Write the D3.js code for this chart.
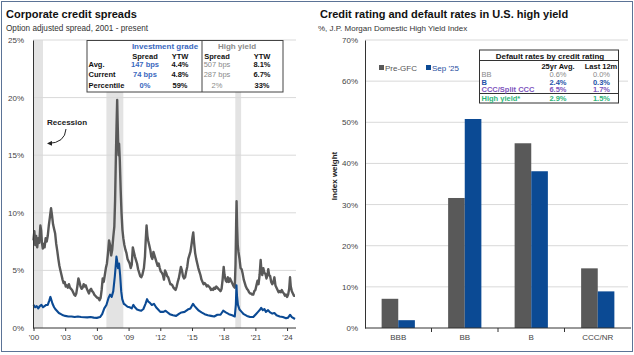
<!DOCTYPE html>
<html><head><meta charset="utf-8">
<script src="https://cdn.jsdelivr.net/npm/d3@7"></script>
<style>body{margin:0;background:#fff} svg{display:block;font-family:"Liberation Sans",Arial,sans-serif}</style>
</head><body><svg id="c" width="634" height="355"></svg>
<script>
// ---------- Left chart data ----------
const hySpread = [[2001.00,7.6],[2001.08,8.4],[2001.17,7.2],[2001.25,8.0],[2001.35,7.0],[2001.45,7.8],[2001.55,7.4],[2001.65,8.9],[2001.72,8.5],[2001.80,7.4],[2001.88,6.9],[2001.96,7.3],[2002.05,7.0],[2002.15,7.8],[2002.25,7.5],[2002.35,8.0],[2002.45,8.9],[2002.55,9.6],[2002.66,10.4],[2002.75,9.8],[2002.85,9.0],[2002.95,8.6],[2003.05,8.2],[2003.15,7.3],[2003.25,6.7],[2003.35,6.0],[2003.45,5.4],[2003.55,5.0],[2003.65,4.6],[2003.75,4.2],[2003.85,3.9],[2003.95,4.0],[2004.05,3.6],[2004.15,3.7],[2004.25,3.5],[2004.35,3.8],[2004.45,3.5],[2004.55,3.4],[2004.65,3.3],[2004.75,3.1],[2004.85,2.9],[2004.95,2.8],[2005.05,3.0],[2005.15,3.6],[2005.25,4.3],[2005.35,4.0],[2005.45,3.6],[2005.55,3.4],[2005.65,3.5],[2005.75,3.8],[2005.85,3.6],[2005.95,3.7],[2006.05,3.4],[2006.15,3.2],[2006.25,3.0],[2006.35,3.3],[2006.45,3.4],[2006.55,3.2],[2006.65,3.1],[2006.75,2.9],[2006.85,2.8],[2006.95,2.7],[2007.05,2.6],[2007.15,2.6],[2007.25,2.4],[2007.35,2.6],[2007.45,3.3],[2007.55,4.3],[2007.65,4.0],[2007.75,4.6],[2007.85,5.2],[2007.95,5.6],[2008.05,6.5],[2008.15,7.6],[2008.25,7.2],[2008.35,6.3],[2008.45,6.8],[2008.55,7.9],[2008.65,8.8],[2008.72,11.0],[2008.80,15.0],[2008.86,17.5],[2008.92,19.8],[2008.96,18.0],[2009.00,16.5],[2009.05,15.0],[2009.10,16.0],[2009.17,14.5],[2009.25,12.0],[2009.33,10.0],[2009.42,8.5],[2009.50,7.8],[2009.60,7.2],[2009.70,6.8],[2009.80,6.5],[2009.90,6.0],[2010.00,5.8],[2010.10,5.6],[2010.20,5.2],[2010.30,5.5],[2010.40,7.0],[2010.50,6.6],[2010.60,6.2],[2010.70,5.9],[2010.80,5.6],[2010.90,5.1],[2011.00,4.8],[2011.10,4.5],[2011.20,4.4],[2011.30,4.6],[2011.45,5.2],[2011.55,6.2],[2011.62,7.6],[2011.70,8.9],[2011.78,8.0],[2011.85,7.6],[2011.95,7.2],[2012.05,6.8],[2012.15,6.2],[2012.25,6.0],[2012.35,6.6],[2012.45,6.3],[2012.55,6.0],[2012.65,5.7],[2012.75,5.4],[2012.85,5.6],[2012.95,5.2],[2013.05,4.9],[2013.15,4.8],[2013.25,4.6],[2013.35,4.2],[2013.45,5.0],[2013.55,4.8],[2013.65,4.5],[2013.75,4.4],[2013.85,4.1],[2013.95,3.8],[2014.05,3.8],[2014.15,3.7],[2014.25,3.5],[2014.35,3.4],[2014.45,3.3],[2014.55,3.6],[2014.65,4.0],[2014.75,4.3],[2014.85,4.8],[2014.95,5.3],[2015.05,5.0],[2015.15,4.5],[2015.25,4.3],[2015.35,4.4],[2015.45,4.9],[2015.55,5.3],[2015.65,6.0],[2015.75,6.3],[2015.85,6.6],[2015.95,7.2],[2016.05,7.9],[2016.12,8.3],[2016.20,7.4],[2016.30,6.5],[2016.40,6.0],[2016.50,5.6],[2016.60,5.2],[2016.70,4.9],[2016.80,4.6],[2016.90,4.2],[2017.00,4.0],[2017.10,3.8],[2017.20,3.9],[2017.30,3.8],[2017.40,3.6],[2017.50,3.7],[2017.60,3.6],[2017.70,3.5],[2017.80,3.3],[2017.90,3.4],[2018.00,3.3],[2018.10,3.5],[2018.20,3.4],[2018.30,3.6],[2018.40,3.5],[2018.50,3.4],[2018.60,3.3],[2018.70,3.2],[2018.80,3.4],[2018.90,4.2],[2019.00,5.3],[2019.08,4.6],[2019.20,4.1],[2019.30,4.0],[2019.40,4.4],[2019.50,4.0],[2019.60,4.3],[2019.70,4.1],[2019.80,3.9],[2019.95,3.6],[2020.05,3.5],[2020.12,5.5],[2020.18,9.0],[2020.22,11.0],[2020.27,8.8],[2020.33,7.2],[2020.40,6.6],[2020.50,6.0],[2020.60,5.2],[2020.70,5.1],[2020.80,4.7],[2020.90,4.2],[2021.00,3.9],[2021.10,3.6],[2021.20,3.4],[2021.30,3.3],[2021.40,3.1],[2021.50,3.0],[2021.60,3.0],[2021.70,2.9],[2021.80,2.9],[2021.90,3.2],[2022.00,3.3],[2022.10,3.7],[2022.20,4.1],[2022.30,3.8],[2022.40,4.6],[2022.50,5.9],[2022.58,4.9],[2022.65,4.6],[2022.75,5.2],[2022.85,4.8],[2022.95,4.7],[2023.05,4.3],[2023.15,4.6],[2023.22,5.1],[2023.30,4.6],[2023.40,4.5],[2023.50,4.0],[2023.60,3.8],[2023.70,4.0],[2023.80,4.4],[2023.90,3.7],[2024.00,3.5],[2024.10,3.3],[2024.20,3.1],[2024.30,3.2],[2024.40,3.1],[2024.50,3.3],[2024.60,3.1],[2024.70,3.0],[2024.80,2.8],[2024.90,2.9],[2025.00,2.7],[2025.10,2.9],[2025.20,3.4],[2025.28,4.4],[2025.35,3.6],[2025.45,3.2],[2025.55,3.0],[2025.65,2.8],[2025.75,2.8]];
const igSpread = [[2001.00,2.0],[2001.15,1.8],[2001.30,1.9],[2001.45,1.7],[2001.60,1.9],[2001.75,2.0],[2001.90,1.8],[2002.05,1.9],[2002.20,2.0],[2002.35,2.0],[2002.50,2.4],[2002.60,2.7],[2002.70,2.4],[2002.80,2.1],[2002.95,1.8],[2003.10,1.6],[2003.25,1.45],[2003.40,1.3],[2003.60,1.2],[2003.80,1.1],[2004.00,1.05],[2004.30,1.0],[2004.60,1.0],[2004.90,0.95],[2005.20,1.0],[2005.50,0.95],[2005.80,0.93],[2006.10,0.92],[2006.40,0.95],[2006.70,0.9],[2007.00,0.88],[2007.30,0.95],[2007.50,1.2],[2007.70,1.7],[2007.90,2.0],[2008.10,2.6],[2008.25,2.9],[2008.40,2.7],[2008.55,3.2],[2008.70,4.5],[2008.80,5.6],[2008.85,6.2],[2008.92,5.8],[2009.00,5.2],[2009.10,5.6],[2009.20,4.6],[2009.30,3.2],[2009.40,2.5],[2009.55,2.1],[2009.70,2.0],[2009.90,1.85],[2010.10,1.8],[2010.30,1.7],[2010.45,2.0],[2010.60,1.8],[2010.80,1.6],[2011.00,1.55],[2011.20,1.5],[2011.40,1.65],[2011.60,2.1],[2011.75,2.5],[2011.85,2.3],[2012.00,2.2],[2012.20,2.0],[2012.40,2.1],[2012.60,1.8],[2012.80,1.6],[2013.00,1.4],[2013.30,1.4],[2013.50,1.5],[2013.70,1.35],[2013.90,1.2],[2014.20,1.1],[2014.50,1.05],[2014.80,1.25],[2015.00,1.35],[2015.30,1.4],[2015.60,1.6],[2015.85,1.7],[2016.10,2.1],[2016.25,1.9],[2016.45,1.7],[2016.65,1.5],[2016.90,1.35],[2017.20,1.2],[2017.50,1.1],[2017.80,1.05],[2018.10,1.0],[2018.40,1.15],[2018.70,1.15],[2018.95,1.5],[2019.20,1.35],[2019.50,1.2],[2019.80,1.1],[2020.05,1.0],[2020.15,2.0],[2020.21,3.7],[2020.26,2.8],[2020.35,2.0],[2020.50,1.6],[2020.70,1.4],[2020.90,1.2],[2021.20,1.05],[2021.50,0.95],[2021.80,0.95],[2022.05,1.2],[2022.25,1.4],[2022.45,1.6],[2022.55,1.75],[2022.70,1.55],[2022.85,1.65],[2023.00,1.4],[2023.20,1.55],[2023.40,1.35],[2023.60,1.25],[2023.80,1.3],[2024.00,1.1],[2024.30,1.0],[2024.60,0.95],[2024.90,0.85],[2025.10,0.9],[2025.28,1.15],[2025.45,0.95],[2025.75,0.78]];
const recessions = [[2001.0, 2001.9], [2007.9, 2009.5], [2020.1, 2020.65]];
const leftYTicks = [0, 5, 10, 15, 20, 25];
const leftXTickYears = [2001, 2004, 2007, 2010, 2013, 2016, 2019, 2022, 2025];
const leftXTickLabels = ["'00", "'03", "'06", "'09", "'12", "'15", "'18", "'21", "'24"];
const spreadTableRows = ["Avg.", "Current", "Percentile"];
const igSpreadCol = ["147 bps", "74 bps", "0%"];
const igYtwCol = ["4.4%", "4.8%", "59%"];
const hySpreadCol = ["507 bps", "287 bps", "2%"];
const hyYtwCol = ["8.1%", "6.7%", "33%"];

// ---------- Right chart data ----------
const ratings = ["BBB", "BB", "B", "CCC/NR"];
const seriesNames = ["Pre-GFC", "Sep '25"];
const preGFC = [7.1, 31.6, 44.9, 14.5];
const sep25 = [1.9, 50.8, 38.1, 8.9];
const rightYTicks = [0, 10, 20, 30, 40, 50, 60, 70];
const defaultRows = ["BB", "B", "CCC/Split CCC", "High yield*"];
const default25yr = ["0.6%", "2.4%", "6.5%", "2.9%"];
const defaultLast12m = ["0.0%", "0.3%", "1.7%", "1.5%"];

const GRAY = "#595959", BLUE = "#0b4a94", GRID = "#d9d9d9", AXIS = "#333";
const svg = d3.select("#c");

// frame
svg.append("rect").attr("x",1.5).attr("y",1.5).attr("width",631).attr("height",350)
  .attr("fill","none").attr("stroke","#5b7396").attr("stroke-width",1);

// ===== LEFT =====
svg.append("text").attr("x",6).attr("y",18).attr("font-size",11).attr("font-weight","bold").attr("fill","#111").text("Corporate credit spreads");
svg.append("text").attr("x",6).attr("y",30.5).attr("font-size",8.2).attr("fill","#333").text("Option adjusted spread, 2001 - present");

const xL = d3.scaleLinear().domain([2001, 2025.75]).range([33.5, 295]);
const yL = d3.scaleLinear().domain([0, 25]).range([328, 40]);

svg.append("g").selectAll("rect").data(recessions).join("rect")
  .attr("x", d => xL(d[0])).attr("width", d => xL(d[1]) - xL(d[0]))
  .attr("y", yL(25)).attr("height", yL(0) - yL(25)).attr("fill", "#e3e3e3");

svg.append("g").selectAll("line").data(leftYTicks.filter(d => d > 0)).join("line")
  .attr("x1", 33).attr("x2", 296).attr("y1", d => yL(d)).attr("y2", d => yL(d))
  .attr("stroke", GRID).attr("stroke-width", 1);

const lineL = d3.line().x(d => xL(d[0])).y(d => yL(d[1]));
svg.append("path").datum(hySpread).attr("d", lineL).attr("fill","none").attr("stroke",GRAY).attr("stroke-width",2.4).attr("stroke-linejoin","round");
svg.append("path").datum(igSpread).attr("d", lineL).attr("fill","none").attr("stroke",BLUE).attr("stroke-width",2.1).attr("stroke-linejoin","round");

const yAxL = svg.append("g").attr("transform","translate(33,0)")
  .call(d3.axisLeft(yL).tickValues(leftYTicks).tickSize(0).tickPadding(9).tickFormat(d => d + "%"));
yAxL.select(".domain").attr("stroke", AXIS);
yAxL.selectAll("text").attr("font-size",8).attr("fill","#444").attr("font-family","Liberation Sans, Arial, sans-serif");

const xAxL = svg.append("g").attr("transform","translate(0,328)")
  .call(d3.axisBottom(xL).tickValues(leftXTickYears).tickSize(3).tickPadding(3)
    .tickFormat((d,i) => leftXTickLabels[i]));
xAxL.select(".domain").attr("stroke", AXIS).attr("d","M33,0H296");
xAxL.selectAll(".tick line").attr("stroke", AXIS);
xAxL.selectAll("text").attr("font-size",8).attr("fill","#444").attr("font-family","Liberation Sans, Arial, sans-serif");

svg.append("defs").append("marker").attr("id","arr").attr("viewBox","0 0 10 10").attr("refX",8).attr("refY",5)
  .attr("markerWidth",5).attr("markerHeight",5).attr("orient","auto")
  .append("path").attr("d","M0,0L10,5L0,10z").attr("fill","#222");
svg.append("text").attr("x",47).attr("y",125).attr("font-size",8).attr("font-weight","bold").attr("fill","#222").text("Recession");
svg.append("path").attr("d","M66,129 Q65,143 48,143.5").attr("fill","none").attr("stroke","#222").attr("stroke-width",1).attr("marker-end","url(#arr)");

const tL = svg.append("g");
tL.append("rect").attr("x",87).attr("y",40.5).attr("width",196).attr("height",51.5).attr("fill","#fff").attr("stroke","#444").attr("stroke-width",1);
tL.append("line").attr("x1",202).attr("x2",202).attr("y1",40.5).attr("y2",92).attr("stroke","#444");
const tt = (x,y,s,opt={}) => tL.append("text").attr("x",x).attr("y",y).attr("font-size",opt.size||7.5)
  .attr("font-weight",opt.bold===false?"normal":"bold").attr("fill",opt.color||"#111")
  .attr("text-anchor",opt.anchor||"middle").text(s);
tt(165,48.7,"Investment grade",{size:8,color:"#3a68be"});
tt(237,48.7,"High yield",{size:8,color:"#8a8a8a"});
tt(145,58.5,"Spread"); tt(180,58.5,"YTW"); tt(217,58.5,"Spread"); tt(262,58.5,"YTW");
const rowY = [67, 77, 87.5];
spreadTableRows.forEach((r,i) => {
  tt(88.5,rowY[i],r,{anchor:"start"});
  tt(145,rowY[i],igSpreadCol[i],{color:"#3a68be"});
  tt(180,rowY[i],igYtwCol[i]);
  tt(217,rowY[i],hySpreadCol[i],{color:"#8a8a8a",bold:false});
  tt(262,rowY[i],hyYtwCol[i]);
});

// ===== RIGHT =====
svg.append("text").attr("x",320).attr("y",18).attr("font-size",11).attr("font-weight","bold").attr("fill","#111").text("Credit rating and default rates in U.S. high yield");
svg.append("text").attr("x",318).attr("y",30.5).attr("font-size",8).attr("fill","#333").text("%, J.P. Morgan Domestic High Yield Index");

const xR = d3.scaleBand().domain(ratings).range([365, 631]);
const xR1 = d3.scaleBand().domain(seriesNames).range([0, xR.bandwidth()]).paddingOuter(1);
const yR = d3.scaleLinear().domain([0, 70]).range([328, 40]);

svg.append("g").selectAll("line").data(rightYTicks.filter(d => d > 0)).join("line")
  .attr("x1", 365).attr("x2", 628).attr("y1", d => yR(d)).attr("y2", d => yR(d))
  .attr("stroke", GRID).attr("stroke-width", 1);

const barData = ratings.map((r,i) => ({r, vals: [{s: seriesNames[0], v: preGFC[i]}, {s: seriesNames[1], v: sep25[i]}]}));
const colorR = d3.scaleOrdinal().domain(seriesNames).range([GRAY, BLUE]);
svg.append("g").selectAll("g").data(barData).join("g").attr("transform", d => `translate(${xR(d.r)},0)`)
  .selectAll("rect").data(d => d.vals).join("rect")
  .attr("x", d => xR1(d.s)).attr("width", xR1.bandwidth())
  .attr("y", d => yR(d.v)).attr("height", d => yR(0) - yR(d.v)).attr("fill", d => colorR(d.s));

const yAxR = svg.append("g").attr("transform","translate(365,0)")
  .call(d3.axisLeft(yR).tickValues(rightYTicks).tickSize(0).tickPadding(7).tickFormat(d => d + "%"));
yAxR.select(".domain").attr("stroke", AXIS);
yAxR.selectAll("text").attr("font-size",8).attr("fill","#444").attr("font-family","Liberation Sans, Arial, sans-serif");

const xAxR = svg.append("g").attr("transform","translate(0,328)")
  .call(d3.axisBottom(xR).tickSize(0).tickPadding(6));
xAxR.select(".domain").attr("stroke", AXIS).attr("d","M365,0H631");
xAxR.selectAll("text").attr("font-size",8).attr("fill","#444").attr("font-family","Liberation Sans, Arial, sans-serif");
svg.append("g").selectAll("line").data(ratings.slice(1)).join("line")
  .attr("x1", d => xR(d)).attr("x2", d => xR(d)).attr("y1", 328).attr("y2", 332).attr("stroke", AXIS);

svg.append("text").attr("transform","translate(337,176) rotate(-90)").attr("text-anchor","middle")
  .attr("font-size",8).attr("font-weight","bold").attr("fill","#222").text("Index weight");

const lg = svg.append("g");
seriesNames.forEach((s,i) => {
  const x0 = [379, 426][i];
  lg.append("rect").attr("x",x0).attr("y",65).attr("width",5).attr("height",5).attr("fill",colorR(s));
  lg.append("text").attr("x",x0+6).attr("y",71).attr("font-size",8).attr("fill", i ? "#1f4fa0" : "#555").text(s);
});

const tR = svg.append("g");
tR.append("rect").attr("x",479.5).attr("y",50).attr("width",139).attr("height",53).attr("fill","#fff").attr("stroke","#333");
tR.append("line").attr("x1",479.5).attr("x2",618.5).attr("y1",60.5).attr("y2",60.5).attr("stroke","#333");
tR.append("line").attr("x1",479.5).attr("x2",618.5).attr("y1",93.5).attr("y2",93.5).attr("stroke","#333");
const tr = (x,y,s,opt={}) => tR.append("text").attr("x",x).attr("y",y).attr("font-size",opt.size||7.5)
  .attr("font-weight",opt.bold===false?"normal":"bold").attr("fill",opt.color||"#111")
  .attr("text-anchor",opt.anchor||"middle").text(s);
tr(550,59,"Default rates by credit rating",{size:8});
tr(558,69.3,"25yr Avg."); tr(601,69.3,"Last 12m");
const dColors = ["#8a8a8a", "#2452a8", "#7d54bd", "#2eb57a"];
const dY = [77, 84.5, 92, 100.5];
defaultRows.forEach((r,i) => {
  const o = {color: dColors[i], bold: i !== 0};
  tr(481.5, dY[i], r, Object.assign({anchor:"start"}, o));
  tr(558, dY[i], default25yr[i], o);
  tr(601.5, dY[i], defaultLast12m[i], o);
});
</script></body></html>
